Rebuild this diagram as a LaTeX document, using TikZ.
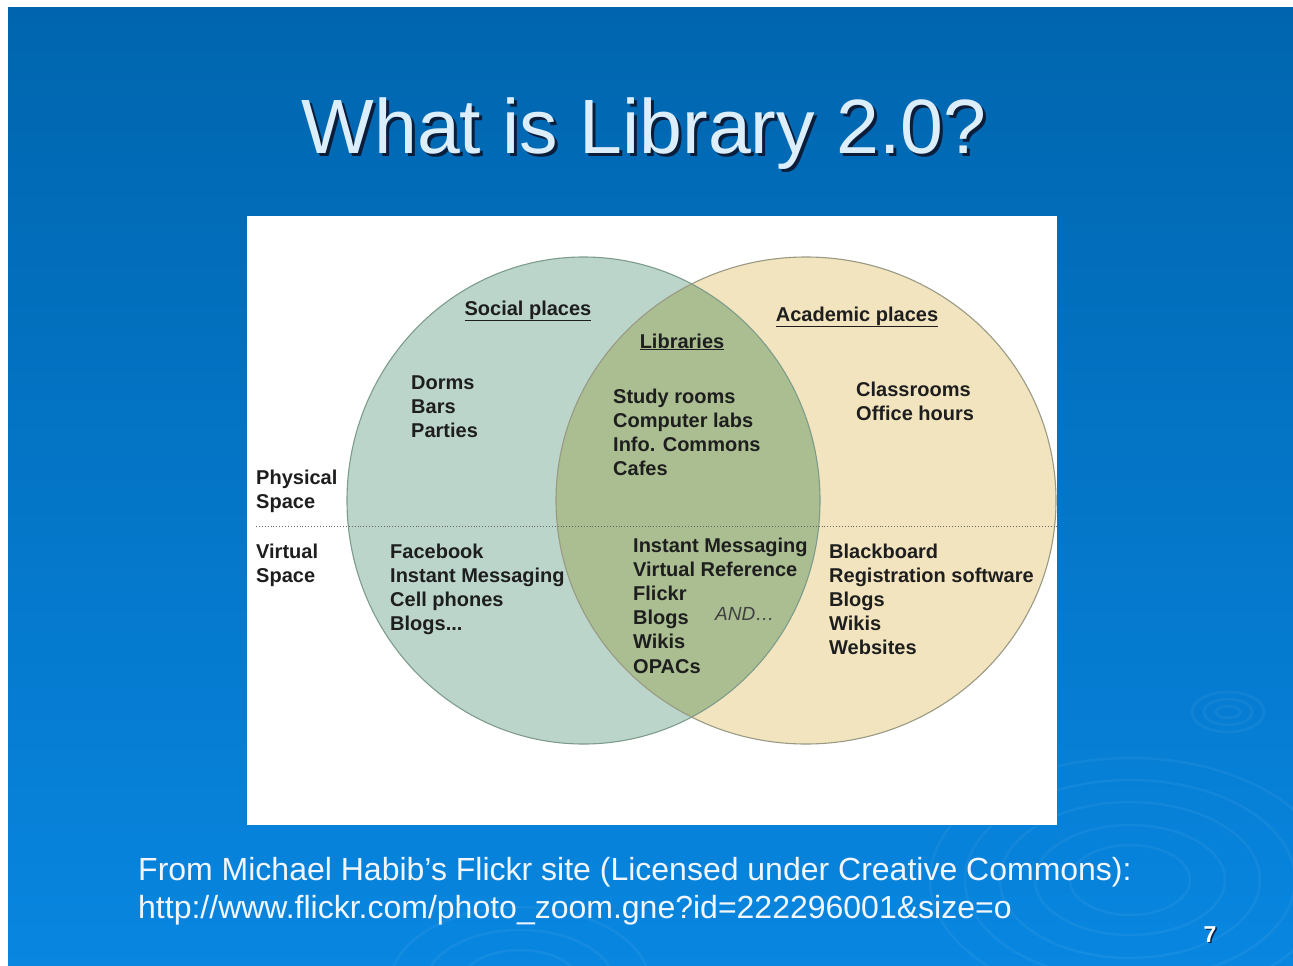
\documentclass[tikz,border=0pt]{standalone}
\usepackage{fontspec}
\setmainfont{Liberation Sans}
\definecolor{bgtop}{HTML}{0065AE}
\definecolor{bgbot}{HTML}{0886E0}
\definecolor{leftfill}{HTML}{BBD5CB}
\definecolor{rightfill}{HTML}{F2E4BE}
\definecolor{midfill}{HTML}{AABE91}
\definecolor{leftline}{HTML}{7E9C8C}
\definecolor{rightline}{HTML}{9A9A84}
\definecolor{txt}{HTML}{1E1E1E}
\definecolor{titlecol}{HTML}{DDEEFB}
\definecolor{shadowcol}{HTML}{0A1E3C}
\definecolor{footcol}{HTML}{F2F6FB}
\newcommand{\shadowtext}[3]{\makebox[0pt][l]{\hspace{#1}\raisebox{-#1}{\color{shadowcol}#3}}#3}
\begin{document}
\begin{tikzpicture}[x=1pt,y=-1pt,
  diag/.style={inner sep=0pt, anchor=base west, align=left, text=txt,
    font=\fontsize{20}{24.2}\selectfont\bfseries},
  head/.style={inner sep=0pt, anchor=base, text=txt,
    font=\fontsize{20}{24.2}\selectfont\bfseries},
  ripple/.style={draw=white, draw opacity=0.05, line width=2.5pt},
  foot/.style={inner sep=0pt, anchor=base west, text=footcol,
    font=\fontsize{32}{38}\selectfont}]
\useasboundingbox (0,0) rectangle (1293,966);
% background
\fill[white] (0,0) rectangle (1293,966);
\shade[top color=bgtop, bottom color=bgbot] (8,8) rectangle (1293,966);
% ripples
\foreach \r/\s in {12/6,24/13,36/20}
  \draw[ripple] (1228,712) ellipse [x radius=\r, y radius=\s];
\foreach \r/\s in {60/35,95/55,130/78,165/100,200/122}
  \draw[ripple] (1130,880) ellipse [x radius=\r, y radius=\s];
\foreach \r/\s in {60/35,95/55,130/78}
  \draw[ripple] (520,985) ellipse [x radius=\r, y radius=\s];
% title
\node[inner sep=0pt, anchor=base, text=titlecol, font=\fontsize{77}{80}\selectfont]
  (title) at (644,153) {\shadowtext{3pt}{}{What is Library 2.0?}};
% white panel
\fill[white] (247,216) rectangle (1057,825);
% venn
\fill[rightfill] (806,500.5) ellipse [x radius=250, y radius=243.5];
\fill[leftfill] (583.5,500.5) ellipse [x radius=236.5, y radius=243.5];
\begin{scope}
  \clip (583.5,500.5) ellipse [x radius=236.5, y radius=243.5];
  \fill[midfill] (806,500.5) ellipse [x radius=250, y radius=243.5];
\end{scope}
\draw[leftline, line width=1.1pt] (583.5,500.5) ellipse [x radius=236.5, y radius=243.5];
\draw[rightline, line width=1.1pt] (806,500.5) ellipse [x radius=250, y radius=243.5];
% divider
\coordinate (divL) at (256,526);
\coordinate (divR) at (1057,526);
\draw[gray!80!black, line width=0.9pt, dotted] (divL) -- (divR);
% headings
\node[head] (social) at (528,315) {\underline{Social places}};
\node[head] (academic) at (857,321) {\underline{Academic places}};
\node[head] (libraries) at (682,348) {\underline{Libraries}};
% side labels (anchor at baseline of last line)
\node[diag] (physical) at (256,508.2) {Physical\\Space};
\node[diag] (virtual) at (256,582.2) {Virtual\\Space};
% physical items
\node[diag] (socialphys) at (411,437.4) {Dorms\\Bars\\Parties};
\node[diag] (libphys) at (613,475.6) {Study rooms\\Computer labs\\Info. Commons\\Cafes};
\node[diag] (acadphys) at (856,420.2) {Classrooms\\Office hours};
% virtual items
\node[diag] (socialvirt) at (390,630.6) {Facebook\\Instant Messaging\\Cell phones\\Blogs...};
\node[diag] (libvirt) at (633,673) {Instant Messaging\\Virtual Reference\\Flickr\\Blogs\\Wikis\\OPACs};
\node[inner sep=0pt, anchor=base west, text=txt!85,
  font=\fontsize{19}{22}\selectfont\itshape] (and) at (715,620) {AND\ldots};
\node[diag] (acadvirt) at (829,654.8) {Blackboard\\Registration software\\Blogs\\Wikis\\Websites};
% footer
\node[foot] (foot1) at (138,880) {From Michael Habib’s Flickr site (Licensed under Creative Commons):};
\node[foot] (foot2) at (138,918) {http://www.flickr.com/photo\_zoom.gne?id=222296001\&size=o};
% page number
\node[inner sep=0pt, anchor=base, text=white, font=\fontsize{23}{24}\selectfont\bfseries]
  (num) at (1210,942) {\shadowtext{1.5pt}{}{7}};
\end{tikzpicture}
\end{document}
